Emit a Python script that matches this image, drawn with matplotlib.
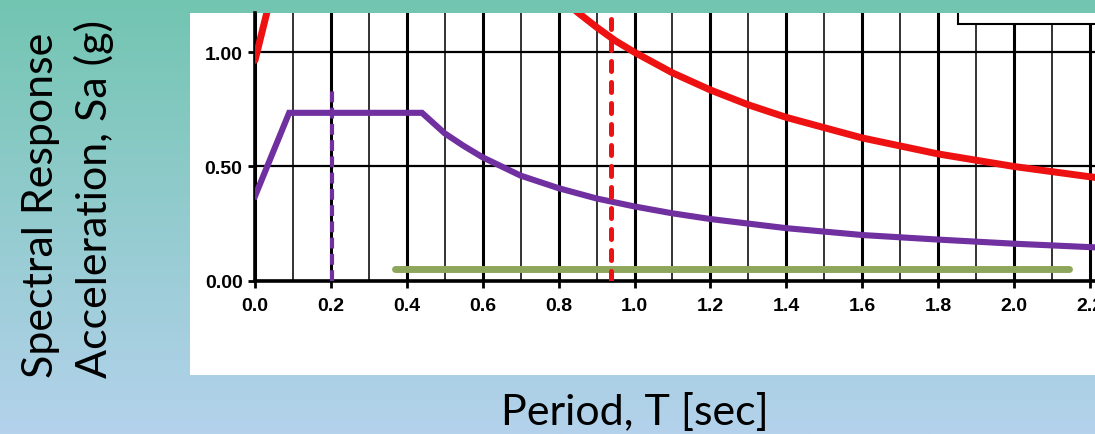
import matplotlib
matplotlib.use("Agg")
import matplotlib.pyplot as plt
import numpy as np
from matplotlib.patches import Rectangle
from matplotlib.ticker import MultipleLocator

# design spectrum (purple)
period_design = [0.0, 0.09, 0.44, 0.47, 0.50, 0.55, 0.60, 0.65, 0.70, 0.80, 0.90,
                 1.00, 1.10, 1.20, 1.40, 1.60, 1.80, 2.00, 2.20, 2.40]
sa_design = [0.37, 0.735, 0.735, 0.69, 0.645, 0.59, 0.54, 0.50, 0.46, 0.405, 0.36,
             0.325, 0.295, 0.27, 0.23, 0.20, 0.18, 0.162, 0.147, 0.135]

# MCE spectrum (red)
period_mce = [0.0, 0.08, 0.667, 0.70, 0.75, 0.80, 0.85, 0.90, 0.95, 1.00, 1.10,
              1.20, 1.30, 1.40, 1.60, 1.80, 2.00, 2.20, 2.40]
sa_mce = [0.965, 1.50, 1.50, 1.43, 1.33, 1.25, 1.175, 1.11, 1.05, 1.00, 0.91,
          0.835, 0.77, 0.715, 0.625, 0.555, 0.50, 0.455, 0.417]

# period range (green)
period_range = [0.37, 2.145]
sa_range = [0.051, 0.051]

# vertical markers
t_design = 0.2016
t_design_top = 0.845
t_mce = 0.938

x_ticks = [0.0, 0.2, 0.4, 0.6, 0.8, 1.0, 1.2, 1.4, 1.6, 1.8, 2.0, 2.2, 2.4]
y_ticks = [0.0, 0.5, 1.0]

PURPLE = "#7030A0"
RED = "#EE1111"
GREEN = "#8DA65B"

W, H = 1095, 435
fig = plt.figure(figsize=(W / 100, H / 100), dpi=100)

# gradient background + white panel (pixel coords)
bg = fig.add_axes([0, 0, 1, 1])
top = np.array([114, 197, 177]) / 255
bot = np.array([180, 210, 236]) / 255
t = np.linspace(0, 1, 256)[:, None]
grad = (1 - t) * top + t * bot
bg.imshow(grad[:, None, :], extent=[0, W, H, 0], aspect="auto")
bg.add_patch(Rectangle((190, 14), W - 190, 362, facecolor="white", edgecolor="none"))
bg.set_xlim(0, W)
bg.set_ylim(H, 0)
bg.axis("off")

# main axes (cropped: extends past the right edge)
x0_px, y0_px, ytop_px = 255, 281.7, 14
px_per_x = 379.5
xmax = 2.4
ymax = 1.172
ax = fig.add_axes([x0_px / W, (H - y0_px) / H,
                   xmax * px_per_x / W, (y0_px - ytop_px) / H])
ax.set_facecolor("none")
ax.set_xlim(0, xmax)
ax.set_ylim(0, ymax)

ax.xaxis.set_major_locator(MultipleLocator(0.2))
ax.xaxis.set_minor_locator(MultipleLocator(0.1))
ax.set_xticks(x_ticks)
ax.set_yticks(y_ticks)
ax.set_xticklabels([f"{v:.1f}" for v in x_ticks])
ax.set_yticklabels([f"{v:.2f}" for v in y_ticks])
for lab in ax.get_xticklabels() + ax.get_yticklabels():
    lab.set_fontfamily("Liberation Sans")
    lab.set_fontweight("bold")
    lab.set_fontsize(14)
ax.tick_params(axis="x", which="major", length=5, width=2, pad=7, direction="out")
ax.tick_params(axis="x", which="minor", length=0)
ax.tick_params(axis="y", length=5, width=2, pad=4, direction="out")

ax.grid(True, which="major", axis="x", color="black", lw=2.2)
ax.grid(True, which="minor", axis="x", color="#222222", lw=1.3)
ax.grid(True, which="major", axis="y", color="black", lw=1.6)
ax.set_axisbelow(True)

for side in ["top", "right"]:
    ax.spines[side].set_visible(False)
for side in ["left", "bottom"]:
    ax.spines[side].set_linewidth(2.6)

# curves
ax.plot(period_mce, sa_mce, color=RED, lw=5, solid_capstyle="round", zorder=3)
ax.plot(period_design, sa_design, color=PURPLE, lw=4.4, solid_joinstyle="miter", zorder=3)
ax.plot(period_range, sa_range, color=GREEN, lw=5, solid_capstyle="round", zorder=3)

ax.plot([t_design, t_design], [0, t_design_top], color=PURPLE, lw=3,
        dashes=(2.6, 1.3), zorder=4)
ax.plot([t_mce, t_mce], [0, ymax], color=RED, lw=3.6, dashes=(2.0, 2.2),
        dash_capstyle="round", zorder=4)

# cropped legend frame in the top right corner
ax.add_patch(Rectangle((1.852, 1.124), 1.0, 0.3, facecolor="white",
                       edgecolor="black", lw=1.5, zorder=5))

# axis titles
fig.text(68 / W, (H - 378) / H, "Spectral Response\nAcceleration, Sa (g)",
         rotation=90, ha="center", va="bottom", multialignment="left",
         fontsize=31, family="Lato", linespacing=1.4)
fig.text(635 / W, (H - 425) / H, "Period, T [sec]", ha="center", va="baseline",
         fontsize=31, family="Lato")

fig.savefig("out.png", dpi=100)
